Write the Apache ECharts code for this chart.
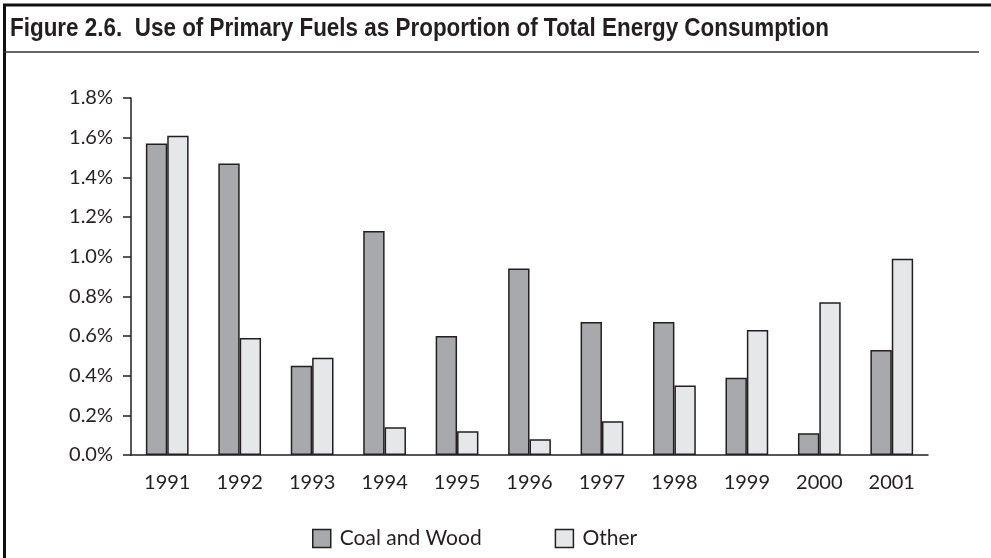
<!DOCTYPE html>
<html>
<head>
<meta charset="utf-8">
<script src="https://cdn.jsdelivr.net/npm/echarts@6/dist/echarts.min.js"></script>
<style>
  html, body { margin: 0; padding: 0; background: #fff; }
  #chart { width: 991px; height: 558px; }
</style>
</head>
<body>
<div id="chart"></div>
<script>
'use strict';

var years = ['1991', '1992', '1993', '1994', '1995', '1996', '1997', '1998', '1999', '2000', '2001'];
var coalWood = [1.57, 1.47, 0.45, 1.13, 0.60, 0.94, 0.67, 0.67, 0.39, 0.11, 0.53];
var other = [1.61, 0.59, 0.49, 0.14, 0.12, 0.08, 0.17, 0.35, 0.63, 0.77, 0.99];

var edge = '#231f20';
var labelFont = 'Lato, "Open Sans", sans-serif';
var titleText = 'Figure 2.6.  Use of Primary Fuels as Proportion of Total Energy Consumption';
var titleFont = 'bold 26px "Liberation Sans", sans-serif';

// squeeze the title so it looks like the condensed face of the original
var ctx = document.createElement('canvas').getContext('2d');
ctx.font = titleFont;
var titleScale = 819 / ctx.measureText(titleText).width;

var chart = echarts.init(document.getElementById('chart'));
var option = {
  animation: false,
  graphic: [
    {type: 'line', shape: {x1: 3, y1: 5, x2: 991, y2: 5}, style: {stroke: '#111', lineWidth: 3}},
    {type: 'line', shape: {x1: 4.5, y1: 4, x2: 4.5, y2: 558}, style: {stroke: '#111', lineWidth: 3}},
    {type: 'line', shape: {x1: 4, y1: 52, x2: 979, y2: 52}, style: {stroke: '#333', lineWidth: 1.5}},
    {
      type: 'text',
      x: 10,
      y: 16,
      scaleX: titleScale,
      style: {text: titleText, font: titleFont, fill: '#231f20', textVerticalAlign: 'top'}
    }
  ],
  legend: {
    left: 307,
    top: 523,
    itemWidth: 18,
    itemHeight: 18,
    itemGap: 73,
    icon: 'rect',
    textStyle: {fontFamily: labelFont, fontSize: 21, color: '#231f20', padding: [0, 0, 0, 4]},
    itemStyle: {borderColor: edge, borderWidth: 1.5},
    data: ['Coal and Wood', 'Other']
  },
  grid: {left: 131, right: 63, top: 98, bottom: 103},
  xAxis: {
    type: 'category',
    data: years,
    axisLine: {lineStyle: {color: edge, width: 1.5}},
    axisTick: {length: 8, lineStyle: {color: edge, width: 1.5}},
    axisLabel: {margin: 18, fontFamily: labelFont, fontSize: 20, color: '#231f20'}
  },
  yAxis: {
    type: 'value',
    min: 0,
    max: 1.8,
    interval: 0.2,
    splitLine: {show: false},
    axisLine: {show: true, lineStyle: {color: edge, width: 1.5}},
    axisTick: {show: true, length: 8, lineStyle: {color: edge, width: 1.5}},
    axisLabel: {
      margin: 18,
      fontFamily: labelFont,
      fontSize: 20,
      color: '#231f20',
      formatter: function (v) { return v.toFixed(1) + '%'; }
    }
  },
  series: [
    {
      name: 'Coal and Wood',
      type: 'bar',
      data: coalWood,
      barGap: '0%',
      barCategoryGap: '41%',
      itemStyle: {color: '#a8a9ad', borderColor: edge, borderWidth: 1.5}
    },
    {
      name: 'Other',
      type: 'bar',
      data: other,
      itemStyle: {color: '#e6e7e8', borderColor: edge, borderWidth: 1.5}
    }
  ]
};
chart.setOption(option);
</script>
</body>
</html>
